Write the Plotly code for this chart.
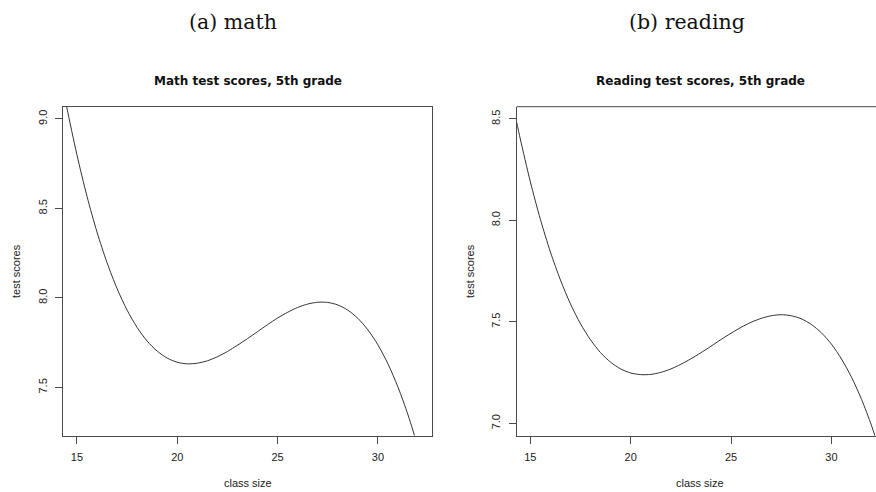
import plotly.graph_objects as go

# Fitted test scores against class size (5th grade)
class_size = [14.3, 14.5, 15, 15.5, 16, 16.5, 17, 17.5, 18, 18.5, 19, 19.5, 20, 20.5,
              21, 21.5, 22, 22.5, 23, 23.5, 24, 24.5, 25, 25.5, 26, 26.5, 27, 27.5,
              28, 28.5, 29, 29.5, 30, 30.5, 31, 31.5, 32, 32.5]
math_scores = [9.175, 9.061, 8.799, 8.568, 8.368, 8.197, 8.052, 7.932, 7.835, 7.759,
               7.703, 7.664, 7.641, 7.632, 7.636, 7.649, 7.672, 7.701, 7.736, 7.773,
               7.812, 7.851, 7.888, 7.920, 7.947, 7.966, 7.976, 7.975, 7.961, 7.932,
               7.886, 7.822, 7.738, 7.632, 7.502, 7.347, 7.164, 6.952]
reading_scores = [8.492, 8.401, 8.190, 8.005, 7.844, 7.706, 7.588, 7.490, 7.411, 7.348,
                  7.301, 7.268, 7.248, 7.240, 7.241, 7.251, 7.268, 7.291, 7.318, 7.348,
                  7.380, 7.413, 7.444, 7.473, 7.498, 7.517, 7.530, 7.535, 7.530, 7.515,
                  7.487, 7.446, 7.390, 7.317, 7.227, 7.118, 6.988, 6.836]

x_ticks = [15, 20, 25, 30]
math_ticks = [7.5, 8.0, 8.5, 9.0]
math_tick_text = ["7.5", "8.0", "8.5", "9.0"]
reading_ticks = [7.0, 7.5, 8.0, 8.5]
reading_tick_text = ["7.0", "7.5", "8.0", "8.5"]

panel_titles = ["Math test scores, 5th grade", "Reading test scores, 5th grade"]
captions = ["(a) math", "(b) reading"]
x_title = "class size"
y_title = "test scores"

W, H = 876, 492


def px(x):
    return x / W


def py(y):
    return 1 - y / H


AXIS_COLOR = "#4a4a4a"
TEXT_COLOR = "#222222"
SANS = "Liberation Sans, Arial, sans-serif"
BOLD = "DejaVu Sans, sans-serif"
SERIF = "DejaVu Serif, serif"

fig = go.Figure()
fig.add_trace(go.Scatter(x=class_size, y=math_scores, mode="lines",
                         line=dict(color="#333333", width=1, shape="spline", smoothing=0.8),
                         xaxis="x", yaxis="y", showlegend=False))
fig.add_trace(go.Scatter(x=class_size, y=reading_scores, mode="lines",
                         line=dict(color="#333333", width=1, shape="spline", smoothing=0.8),
                         xaxis="x2", yaxis="y2", showlegend=False))

y_top, y_bot = 106.7, 435.5
left_l, left_r = 63.3, 431.7
right_l = 516.7

common = dict(showgrid=False, zeroline=False, showline=True, linecolor=AXIS_COLOR,
              linewidth=1, ticks="outside", ticklen=7, tickwidth=1, tickcolor=AXIS_COLOR,
              tickfont=dict(family=SANS, size=11, color=TEXT_COLOR))

fig.update_layout(
    width=W, height=H, margin=dict(l=0, r=0, t=0, b=0),
    paper_bgcolor="white", plot_bgcolor="white",
    xaxis=dict(domain=[px(left_l), px(left_r)], range=[14.32, 32.68], tickvals=x_ticks,
               anchor="y", mirror=True, ticklabelstandoff=4, **common),
    yaxis=dict(domain=[py(y_bot), py(y_top)], range=[7.232, 9.068], tickvals=math_ticks,
               ticktext=math_tick_text, tickangle=-90, anchor="x", mirror=True,
               ticklabelstandoff=4, **common),
    xaxis2=dict(domain=[px(right_l), 1.0], range=[14.32, 32.22], tickvals=x_ticks,
                anchor="y2", ticklabelstandoff=4, **common),
    yaxis2=dict(domain=[py(y_bot), py(y_top)], range=[6.94, 8.56], tickvals=reading_ticks,
                ticktext=reading_tick_text, tickangle=-90, anchor="x2",
                ticklabelstandoff=4, **common),
)

# top border of the right panel (its right edge runs past the page)
fig.add_shape(type="line", xref="paper", yref="paper", x0=px(right_l), x1=1.0,
              y0=py(y_top), y1=py(y_top), line=dict(color=AXIS_COLOR, width=1))

annotations = []
caption_x = [233, 687]
title_x = [247.5, 700]
ytitle_x = [16, 470]
for i in range(2):
    annotations.append(dict(text=captions[i], x=px(caption_x[i]), y=py(22),
                            xref="paper", yref="paper", showarrow=False,
                            xanchor="center", yanchor="middle",
                            font=dict(family=SERIF, size=20.5, color="#111111")))
    annotations.append(dict(text="<b>" + panel_titles[i] + "</b>", x=px(title_x[i]), y=py(81),
                            xref="paper", yref="paper", showarrow=False,
                            xanchor="center", yanchor="middle",
                            font=dict(family=BOLD, size=12, color="#111111")))
    annotations.append(dict(text=x_title, x=px(title_x[i]), y=py(483),
                            xref="paper", yref="paper", showarrow=False,
                            xanchor="center", yanchor="middle",
                            font=dict(family=SANS, size=11, color=TEXT_COLOR)))
    annotations.append(dict(text=y_title, x=px(ytitle_x[i]), y=py(271),
                            xref="paper", yref="paper", showarrow=False, textangle=-90,
                            xanchor="center", yanchor="middle",
                            font=dict(family=SANS, size=11, color=TEXT_COLOR)))
fig.update_layout(annotations=annotations)

fig.write_html("out.html")
